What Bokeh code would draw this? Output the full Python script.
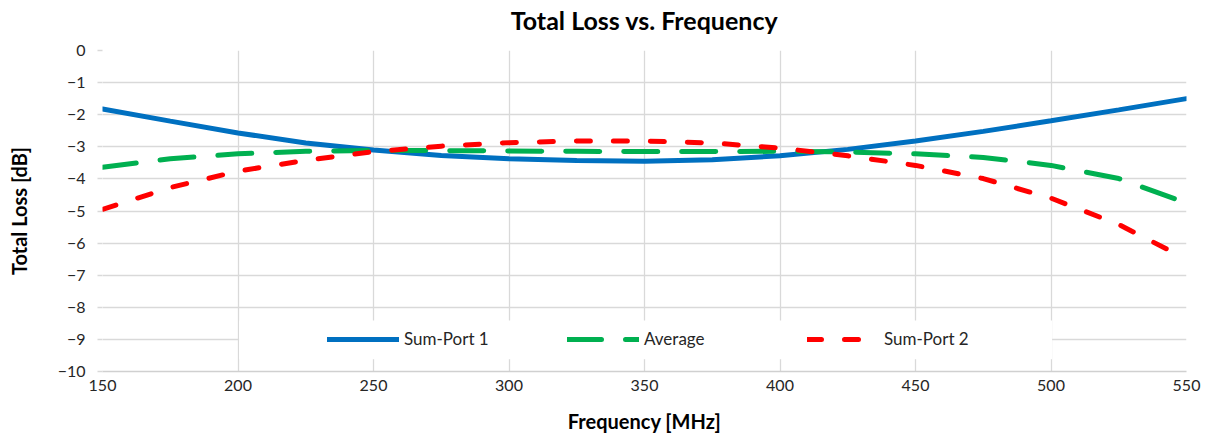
from bokeh.plotting import figure
from bokeh.models import (Range1d, FixedTicker, Legend, LegendItem, BoxAnnotation, LinearAxis)
from bokeh.embed import file_html
from bokeh.resources import INLINE

# ---- data ----
freq_mhz = [150, 175, 200, 225, 250, 275, 300, 325, 350, 375, 400, 425, 450, 475, 500, 525, 550]
sum_port_1 = [-1.82, -2.20, -2.57, -2.88, -3.10, -3.27, -3.37, -3.43, -3.45, -3.40, -3.28, -3.08, -2.82, -2.52, -2.19, -1.85, -1.50]
average = [-3.64, -3.37, -3.22, -3.14, -3.11, -3.12, -3.13, -3.14, -3.15, -3.15, -3.14, -3.16, -3.22, -3.33, -3.58, -3.99, -4.75]
sum_port_2 = [-4.95, -4.27, -3.76, -3.42, -3.15, -2.98, -2.87, -2.82, -2.82, -2.88, -3.04, -3.28, -3.58, -3.99, -4.60, -5.42, -6.50]
x_ticks = [150, 200, 250, 300, 350, 400, 450, 500, 550]
y_ticks = [0, -1, -2, -3, -4, -5, -6, -7, -8, -9, -10]
series_names = ["Sum-Port 1", "Average", "Sum-Port 2"]
chart_title = "Total Loss vs. Frequency"

FONT = "Lato"
GRID = "#D9D9D9"
TXT = "#262626"

p = figure(width=1207, height=440, output_backend="svg", toolbar_location=None,
           x_range=Range1d(150, 550), y_range=Range1d(-10, 0),
           min_border_left=102, min_border_right=21, min_border_top=50, min_border_bottom=69)
p.outline_line_color = None
p.background_fill_color = "white"
p.border_fill_color = "white"

xa = p.below[0]
ya = p.left[0]

# chart title: carried by a bare axis above the frame so it can sit high
title_axis = LinearAxis(ticker=FixedTicker(ticks=[]), axis_label=chart_title,
                        axis_line_color=None, major_tick_line_color=None,
                        minor_tick_line_color=None, major_tick_out=0, major_tick_in=0,
                        major_label_standoff=0, axis_label_standoff=16,
                        axis_label_text_font=FONT, axis_label_text_font_size="25px",
                        axis_label_text_line_height=0.8,
                        axis_label_text_font_style="bold", axis_label_text_color="#000000")
p.add_layout(title_axis, "above")

# axes
xa.ticker = FixedTicker(ticks=x_ticks)
ya.ticker = FixedTicker(ticks=y_ticks)
xa.axis_label = "Frequency [MHz]"
ya.axis_label = "Total Loss [dB]"
for ax in (xa, ya):
    ax.axis_label_text_font = FONT
    ax.axis_label_text_font_style = "bold"
    ax.axis_label_text_font_size = "20px"
    ax.axis_label_text_color = "#000000"
    ax.major_label_text_font = FONT
    ax.major_label_text_font_size = "16px"
    ax.major_label_text_color = TXT
    ax.minor_tick_line_color = None
    ax.major_tick_in = 0

xa.axis_line_color = "#D0D0D0"
xa.axis_line_width = 1.5
xa.major_tick_out = 0
xa.major_label_standoff = 8
xa.axis_label_standoff = 15

ya.axis_line_color = None
ya.major_tick_out = 5
ya.major_tick_line_color = GRID
ya.major_tick_line_width = 1.3
ya.major_label_standoff = 12
ya.axis_label_standoff = 24

p.xgrid.grid_line_color = GRID
p.ygrid.grid_line_color = GRID
p.xgrid.grid_line_width = 1.3
p.ygrid.grid_line_width = 1.3

# white panel behind the legend hiding the grid (style element)
legend_bg = BoxAnnotation(left=200.4, right=500.4, top=-8.41, bottom=-9.62,
                          fill_color="white", fill_alpha=1.0, line_color=None,
                          level="underlay")
p.add_layout(legend_bg)

r1 = p.line(freq_mhz, sum_port_1, line_color="#0070C0", line_width=5, line_cap="round")
r2 = p.line(freq_mhz, average, line_color="#00B050", line_width=5, line_cap="round",
            line_dash="34 24")
r3 = p.line(freq_mhz, sum_port_2, line_color="#FF0000", line_width=5, line_cap="round",
            line_dash="14 23")

legend = Legend(items=[LegendItem(label=series_names[0], renderers=[r1]),
                       LegendItem(label=series_names[1], renderers=[r2]),
                       LegendItem(label=series_names[2], renderers=[r3])],
                orientation="horizontal", location=(225, 22),
                padding=5, spacing=78, glyph_width=72, glyph_height=20,
                label_width=85, label_standoff=5,
                label_text_font=FONT, label_text_font_size="17px", label_text_color=TXT,
                background_fill_color="white", background_fill_alpha=1.0,
                border_line_color=None)
p.add_layout(legend)

open("out.html", "w").write(file_html(p, INLINE))
